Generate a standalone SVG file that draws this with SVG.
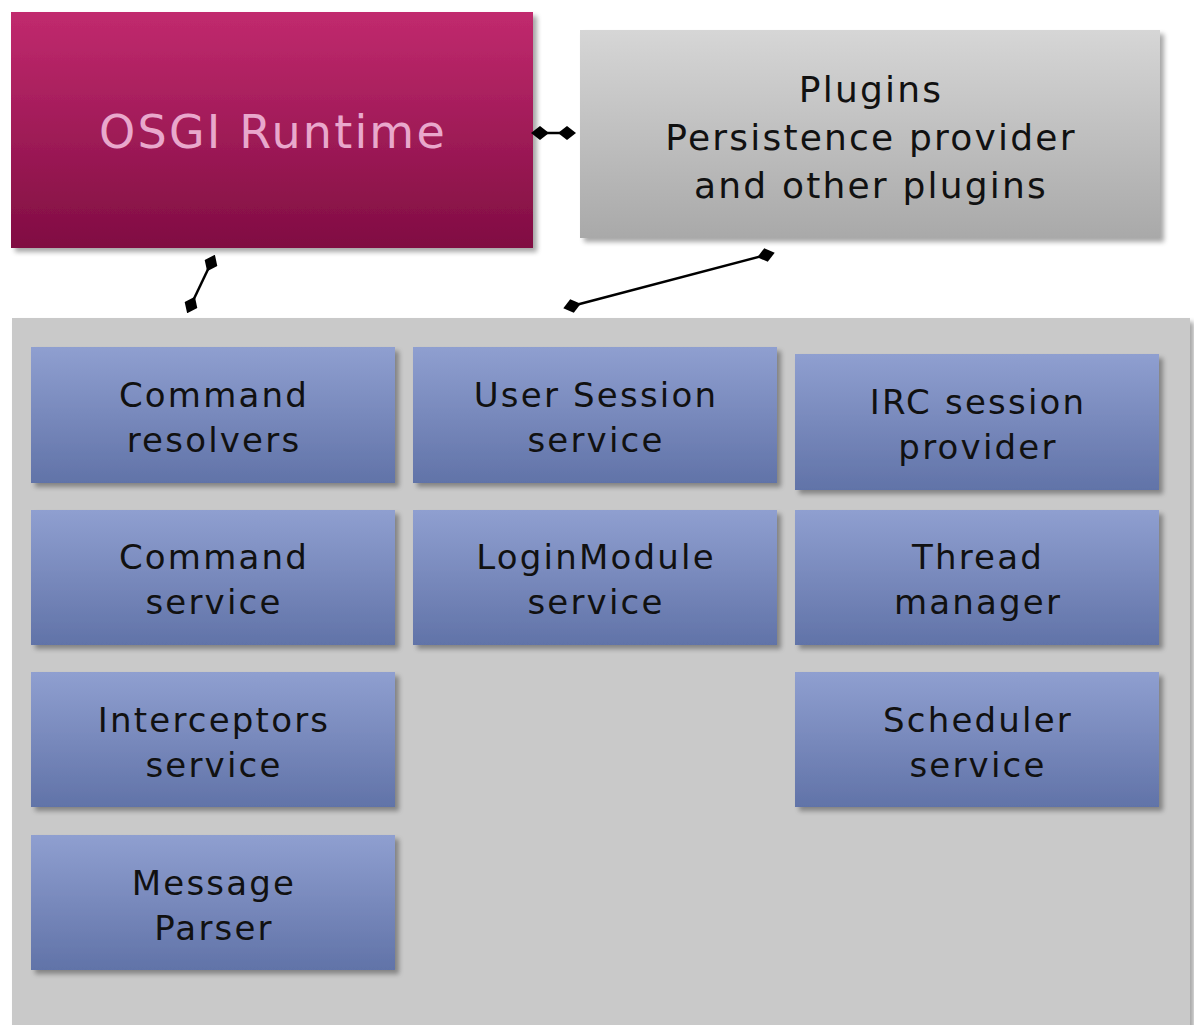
<svg xmlns="http://www.w3.org/2000/svg" width="1194" height="1025" viewBox="0 0 1194 1025">
<defs>
<linearGradient id="gMag" x1="0" y1="0" x2="0" y2="1"><stop offset="0" stop-color="#c12a6e"/><stop offset="1" stop-color="#800d42"/></linearGradient>
<linearGradient id="gGrey" x1="0" y1="0" x2="0" y2="1"><stop offset="0" stop-color="#d6d6d6"/><stop offset="1" stop-color="#a9a9a9"/></linearGradient>
<linearGradient id="gBlue" x1="0" y1="0" x2="0" y2="1"><stop offset="0" stop-color="#8f9fd0"/><stop offset="1" stop-color="#6173a8"/></linearGradient>
<filter id="sh" x="-5%" y="-5%" width="115%" height="115%"><feGaussianBlur in="SourceAlpha" stdDeviation="2.5"/><feOffset dx="4" dy="4"/><feComponentTransfer><feFuncA type="linear" slope="0.35"/></feComponentTransfer><feMerge><feMergeNode/><feMergeNode in="SourceGraphic"/></feMerge></filter>
<marker id="dia" viewBox="0 0 18 14" refX="9" refY="7" markerWidth="18" markerHeight="14" markerUnits="userSpaceOnUse" orient="auto"><path d="M0,7 L9,0 L18,7 L9,14 Z" fill="#000"/></marker>
<style>
.t{font-family:"DejaVu Sans","Verdana",sans-serif;text-anchor:middle;letter-spacing:2.2px;}
.bl{font-size:34px;fill:#111;}
.pl{font-size:36px;fill:#111;}
.conn{stroke:#000;stroke-width:2.5;fill:none;marker-start:url(#dia);marker-end:url(#dia);}
</style>
</defs>
<rect width="1194" height="1025" fill="#fff"/>
<g id="osgi"><rect x="11" y="12" width="522" height="236" fill="url(#gMag)" filter="url(#sh)"/><text class="t" x="273" y="148" font-size="46" fill="#e9a8cc">OSGI Runtime</text></g>
<g id="plugins"><rect x="580" y="30" width="580" height="208" fill="url(#gGrey)" filter="url(#sh)"/><text class="t pl" x="871" y="102">Plugins</text><text class="t pl" x="871" y="150">Persistence provider</text><text class="t pl" x="871" y="198">and other plugins</text></g>
<g id="container"><rect x="12" y="318" width="1178" height="720" fill="#c9c9c9" filter="url(#sh)"/></g>
<g id="cmdres"><rect x="31" y="347" width="364" height="136" fill="url(#gBlue)" filter="url(#sh)"/><text class="t bl" x="214" y="407">Command</text><text class="t bl" x="214" y="452">resolvers</text></g>
<g id="usersession"><rect x="413" y="347" width="364" height="136" fill="url(#gBlue)" filter="url(#sh)"/><text class="t bl" x="596" y="407">User Session</text><text class="t bl" x="596" y="452">service</text></g>
<g id="irc"><rect x="795" y="354" width="364" height="136" fill="url(#gBlue)" filter="url(#sh)"/><text class="t bl" x="978" y="414">IRC session</text><text class="t bl" x="978" y="459">provider</text></g>
<g id="cmdsvc"><rect x="31" y="510" width="364" height="135" fill="url(#gBlue)" filter="url(#sh)"/><text class="t bl" x="214" y="569">Command</text><text class="t bl" x="214" y="614">service</text></g>
<g id="login"><rect x="413" y="510" width="364" height="135" fill="url(#gBlue)" filter="url(#sh)"/><text class="t bl" x="596" y="569">LoginModule</text><text class="t bl" x="596" y="614">service</text></g>
<g id="thread"><rect x="795" y="510" width="364" height="135" fill="url(#gBlue)" filter="url(#sh)"/><text class="t bl" x="978" y="569">Thread</text><text class="t bl" x="978" y="614">manager</text></g>
<g id="interceptors"><rect x="31" y="672" width="364" height="135" fill="url(#gBlue)" filter="url(#sh)"/><text class="t bl" x="214" y="732">Interceptors</text><text class="t bl" x="214" y="777">service</text></g>
<g id="scheduler"><rect x="795" y="672" width="364" height="135" fill="url(#gBlue)" filter="url(#sh)"/><text class="t bl" x="978" y="732">Scheduler</text><text class="t bl" x="978" y="777">service</text></g>
<g id="parser"><rect x="31" y="835" width="364" height="135" fill="url(#gBlue)" filter="url(#sh)"/><text class="t bl" x="214" y="895">Message</text><text class="t bl" x="214" y="940">Parser</text></g>
<g id="connectors">
<path class="conn" d="M540,133 L567,133"/>
<path class="conn" d="M211,263 L191,305"/>
<path class="conn" d="M766,255 L572,306"/>
</g>
</svg>
